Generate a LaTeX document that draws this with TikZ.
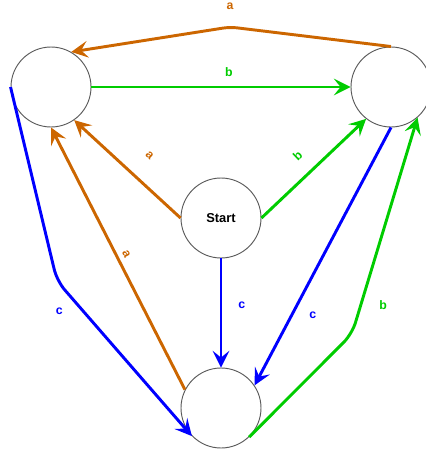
\documentclass[tikz,border=0pt]{standalone}
\usepackage{fontspec}
\setmainfont{Liberation Sans}
\usetikzlibrary{arrows.meta}
\definecolor{edgea}{HTML}{CC6600}
\definecolor{edgeb}{HTML}{00CC00}
\definecolor{edgec}{HTML}{0000FF}

\begin{document}
\begin{tikzpicture}[x=0.03cm,y=-0.03cm,
    state/.style={circle,draw=black!65,line width=0.8pt,minimum size=2.4cm,inner sep=0pt,font=\bfseries\fontsize{11}{13}\selectfont},
    trans/.style={line width=2.5pt,-{Stealth[length=0.5cm,width=0.5cm,inset=0.2cm]}},
    lbl/.style={inner sep=0pt,font=\bfseries\fontsize{10.5}{12}\selectfont}]
    \useasboundingbox (0,0) rectangle (426,450);
    \node[state] (q1) at (51,87) {};
    \node[state] (q2) at (391,87) {};
    \node[state] (start) at (221,218) {Start};
    \node[state] (q3) at (221,408) {};
    \coordinate (topbend) at (230,27);
    \coordinate (leftbend) at (57,281);
    \coordinate (rightbend) at (352,334);
    \draw[trans,edgea,rounded corners=6pt] (q2.north) -- (topbend) node[lbl,above=0.48cm] {a} -- (q1.60);
    \draw[trans,edgeb] (q1.east) -- (q2.west) node[lbl,pos=0.53,above=0.27cm] {b};
    \draw[trans,edgea] (start.west) -- (q1.-55) node[lbl,sloped,pos=0.45,above=0.6cm] {a};
    \draw[trans,edgeb] (start.east) -- (q2.-128) node[lbl,sloped,pos=0.48,above=0.44cm] {b};
    \draw[trans,edgea] (q3.153) -- (q1.south) node[lbl,sloped,pos=0.5,above=0.14cm] {a};
    \draw[trans,edgec,rounded corners=10pt] (q1.west) -- (leftbend) -- (q3.-136) node[lbl,pos=0.12,xshift=-0.42cm,yshift=-0.36cm] {c};
    \draw[trans,edgec] (start.south) -- (q3.north) node[lbl,pos=0.43,right=0.48cm] {c};
    \draw[trans,edgec] (q2.south) -- (q3.34) node[lbl,pos=0.695,xshift=0.5cm,yshift=-0.26cm] {c};
    \draw[trans,edgeb,rounded corners=10pt] (q3.-46) -- (rightbend) -- (q2.-49) node[lbl,pos=0.163,xshift=0.61cm,yshift=-0.19cm] {b};
\end{tikzpicture}
\end{document}
